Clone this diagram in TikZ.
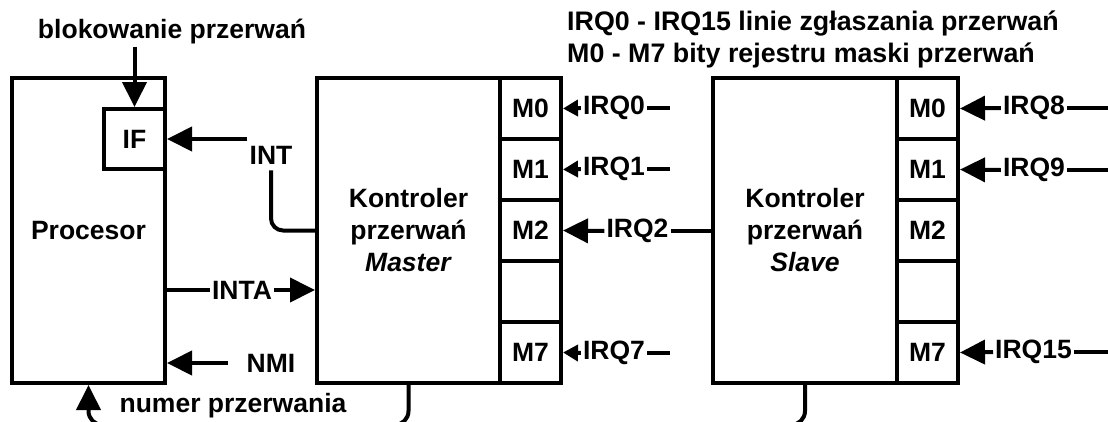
\documentclass[tikz,border=0pt]{standalone}
\usepackage{fontspec}
\setmainfont{Liberation Sans}
\usetikzlibrary{arrows.meta,calc}
\begin{document}
\begin{tikzpicture}[x=1pt,y=-1pt,
  every node/.style={font=\fontsize{26.5}{32}\selectfont\bfseries},
  box/.style={draw,line width=4pt,inner sep=0pt},
  wire/.style={line width=4pt},
  bigarr/.style={wire,-{Triangle[length=25pt,width=24pt]}},
  smallarr/.style={wire,-{Triangle[length=15pt,width=16pt]}},
  lbl/.style={inner sep=2pt}]
\useasboundingbox (0,0) rectangle (1108,421);
\clip (0,0) rectangle (1108,421);

% processor
\node[box,minimum width=153pt,minimum height=305pt] (proc) at (88.5,230.5) {Procesor};
\node[box,minimum width=61pt,minimum height=60pt] (IF) at (134.5,139) {IF};

% master
\node[box,minimum width=183pt,minimum height=305pt,align=center] (master) at (408.5,230.5) {Kontroler\\przerwań\\\textit{Master}};
\foreach \n/\t [count=\i from 0] in {m0/M0,m1/M1,m2/M2,m3/,m7/M7}
  \node[box,minimum width=61pt,minimum height=61pt] (\n) at (530.5,108.5+61*\i) {\t};

% slave
\node[box,minimum width=184pt,minimum height=305pt,align=center] (slave) at (805,230.5) {Kontroler\\przerwań\\\textit{Slave}};
\foreach \n/\t [count=\i from 0] in {s0/M0,s1/M1,s2/M2,s3/,s7/M7}
  \node[box,minimum width=61pt,minimum height=61pt] (\n) at (927.5,108.5+61*\i) {\t};

% legend
\node[lbl,anchor=west,align=left,font=\fontsize{26.8}{32}\selectfont\bfseries] (legend) at (565,39)
  {IRQ0 - IRQ15 linie zgłaszania przerwań\\M0 - M7 bity rejestru maski przerwań};

% processor signals
\node[lbl] (blok) at (172,32) {blokowanie przerwań};
\draw[bigarr] (blok.south -| IF.north) -- (IF.north);

\node[lbl] (int) at (271,155) {INT};
\draw[bigarr] (int.west |- IF.east) -- (IF.east);
\draw[wire,rounded corners=12pt] ([yshift=-4pt]int.south) |- (master.west);

\node[lbl] (inta) at (242,290) {INTA};
\draw[wire] (proc.east |- inta) -- (inta.west);
\draw[bigarr] (inta.east) -- (inta -| master.west);

\node[lbl] (nmi) at (271,363) {NMI};
\draw[bigarr] ([xshift=-17pt]nmi.west) -- (nmi -| proc.east);

\node[lbl] (num) at (233,406) {numer przerwania};
\coordinate (bus) at (0,425);
\draw[bigarr,rounded corners=14pt] (master.south) |- (proc.south |- bus) -- (proc.south);
\draw[wire,rounded corners=14pt] (slave.south) |- (master.south |- bus);

% master IRQ lines
\node[lbl] (irq0) at (614,108) {IRQ0};
\draw[smallarr] (irq0.west) -- (m0.east);
\coordinate (e0) at (670,108);
\draw[wire] (irq0.east) -- (e0);

\node[lbl] (irq1) at (614,169) {IRQ1};
\draw[smallarr] (irq1.west) -- (m1.east);
\coordinate (e1) at (670,169);
\draw[wire] (irq1.east) -- (e1);

\node[lbl] (irq2) at (637.5,231) {IRQ2};
\draw[bigarr] (irq2.west) -- (m2.east);
\draw[wire] (irq2.east) -- (irq2 -| slave.west);

\node[lbl] (irq7) at (614,353) {IRQ7};
\draw[smallarr] (irq7.west) -- (m7.east);
\coordinate (e7) at (670,353);
\draw[wire] (irq7.east) -- (e7);

% slave IRQ lines
\node[lbl] (irq8) at (1034,108) {IRQ8};
\draw[bigarr] (irq8.west) -- (s0.east);
\coordinate (e8) at (1112,108);
\draw[wire] (irq8.east) -- (e8);

\node[lbl] (irq9) at (1034,170) {IRQ9};
\draw[bigarr] (irq9.west) -- (s1.east);
\coordinate (e9) at (1112,170);
\draw[wire] (irq9.east) -- (e9);

\node[lbl] (irq15) at (1033.5,352) {IRQ15};
\draw[bigarr] (irq15.west) -- (s7.east);
\coordinate (e15) at (1112,352);
\draw[wire] (irq15.east) -- (e15);
\end{tikzpicture}
\end{document}
